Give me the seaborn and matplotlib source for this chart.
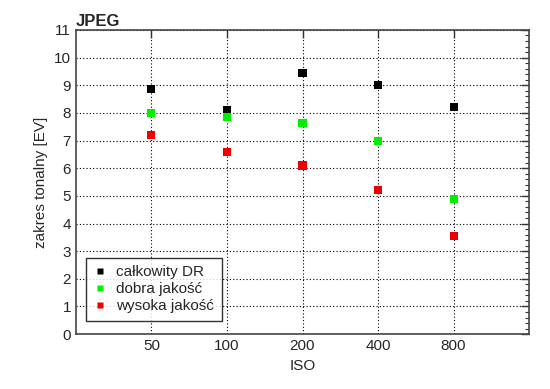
import pandas as pd
import seaborn as sns
import matplotlib
matplotlib.use("Agg")
import matplotlib.pyplot as plt
from matplotlib.ticker import MultipleLocator

# values
iso_labels = ["50", "100", "200", "400", "800"]
calkowity_dr = [8.85, 8.1, 9.45, 9.0, 8.2]
dobra_jakosc = [8.0, 7.85, 7.65, 7.0, 4.9]
wysoka_jakosc = [7.2, 6.6, 6.1, 5.2, 3.55]

series_names = ["całkowity DR", "dobra jakość", "wysoka jakość"]
series_colors = ["#000000", "#00ee00", "#ee0000"]


def build_frame():
    rows = []
    for name, vals in zip(series_names, [calkowity_dr, dobra_jakosc, wysoka_jakosc]):
        for i, v in enumerate(vals):
            rows.append({"pos": i + 1, "val": v, "seria": name})
    return pd.DataFrame(rows)


def main():
    sns.set_style("white")
    plt.rcParams["font.family"] = ["Liberation Sans", "DejaVu Sans"]

    df = build_frame()

    fig = plt.figure(figsize=(5.5, 3.89), dpi=100)
    ax = fig.add_axes([0.138, 0.141, 0.824, 0.782])

    sns.scatterplot(data=df, x="pos", y="val", hue="seria", hue_order=series_names,
                    palette=series_colors, marker="s", s=34, edgecolor="none",
                    ax=ax, zorder=3)

    ax.set_xlim(0, 6)
    ax.set_ylim(0, 11)
    ax.set_xticks(range(1, 6))
    ax.set_xticklabels(iso_labels)
    ax.yaxis.set_major_locator(MultipleLocator(1))
    ax.yaxis.set_minor_locator(MultipleLocator(0.2))

    # dotted grid like the original
    ax.grid(True, which="major", linestyle=(0, (1, 2)), color="black", linewidth=0.8)
    ax.tick_params(which="both", direction="in", top=True, right=True,
                   labelsize=11, color="#333333")
    ax.tick_params(which="major", length=6, width=1)
    ax.tick_params(which="minor", length=3, width=0.8)
    for sp in ax.spines.values():
        sp.set_color("#444444")
        sp.set_linewidth(1.2)

    ax.set_xlabel("ISO", fontsize=11)
    ax.set_ylabel("zakres tonalny [EV]", fontsize=11)
    ax.set_title("JPEG", loc="left", fontsize=12, fontweight="bold", pad=3)

    leg = ax.legend(loc="lower left", bbox_to_anchor=(0.022, 0.043), borderaxespad=0,
                    fontsize=11, frameon=True, fancybox=False, edgecolor="black",
                    handlelength=0.8, handletextpad=0.7, borderpad=0.5,
                    labelspacing=0.2, markerscale=0.8)
    leg.get_frame().set_linewidth(1.0)

    fig.savefig("out.png", dpi=100)


if __name__ == "__main__":
    main()
